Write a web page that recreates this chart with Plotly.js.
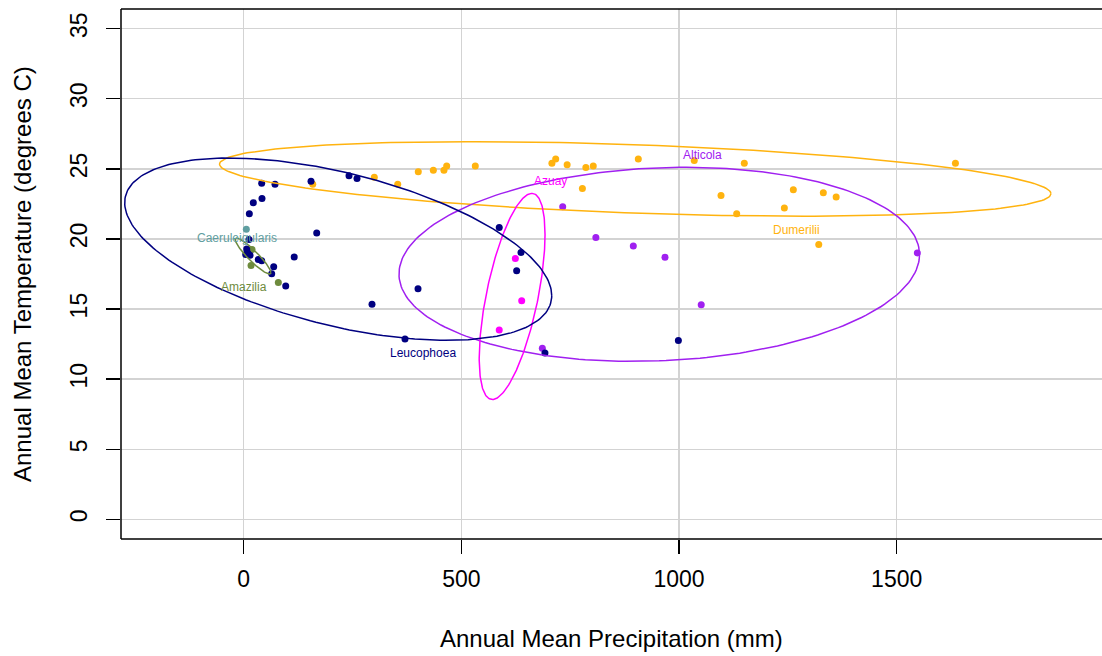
<!DOCTYPE html>
<html>
<head>
<meta charset="utf-8">
<script src="https://cdn.plot.ly/plotly-3.0.1.min.js"></script>
<style>html,body{margin:0;padding:0;background:#fff}#chart{width:1102px;height:656px}</style>
</head>
<body>
<div id="chart"></div>
<script>
// ---- data ----
const dumX = [158.6, 300, 353.8, 401, 435.6, 460, 466.3, 532, 708, 716.7, 743, 786, 803, 906.5, 1035, 1150, 1635, 778, 1096.5, 1262.6, 1331.5, 1361, 1132.5, 1242, 1321];
const dumY = [23.9, 24.4, 23.9, 24.8, 24.9, 24.9, 25.2, 25.2, 25.4, 25.7, 25.3, 25.1, 25.2, 25.7, 25.6, 25.4, 25.4, 23.6, 23.1, 23.5, 23.3, 23.0, 21.8, 22.2, 19.6];
const altX = [732.8, 809, 895, 967.8, 1051, 686, 1547.5];
const altY = [22.3, 20.1, 19.5, 18.7, 15.3, 12.2, 19.0];
const azuX = [624, 638.6, 587];
const azuY = [18.6, 15.6, 13.5];
const caeX = [6];
const caeY = [20.7];
const amaX = [19.1, 16.8, 79.5];
const amaY = [19.25, 18.1, 16.9];
const leuX = [41.3, 71.9, 154.6, 22, 42, 12.9, 167.7, 12.2, 6.9, 9.2, 4.6, 14.5, 33.5, 41.3, 116, 68.9, 64.3, 96.5, 241.9, 260.3, 587, 637, 627, 692, 998.5, 400.4, 294.7, 370.5];
const leuY = [23.98, 23.9, 24.12, 22.59, 22.89, 21.8, 20.43, 19.96, 19.29, 19.0, 18.89, 18.84, 18.54, 18.44, 18.72, 18.01, 17.51, 16.64, 24.5, 24.31, 20.81, 19.03, 17.73, 11.86, 12.76, 16.45, 15.34, 12.86];

// ellipse parameters: centre, half-extent in x and y, correlation
const ellNames = ["Dumerilii", "Alticola", "Azuay", "Amazilia", "Leucophoea"];
const ellCx = [899.5, 954.6, 616.6, 21.4, 217.1];
const ellCy = [24.28, 18.19, 15.9, 18.78, 19.27];
const ellRx = [955, 597.9, 75.6, 40.9, 490.5];
const ellRy = [2.66, 6.92, 7.35, 1.28, 6.5];
const ellR = [-0.397, 0.10, 0.60, -0.92, -0.51];

// labels
const labNames = ["Alticola", "Azuay", "Dumerilii", "Leucophoea", "Caeruleigularis", "Amazilia"];
const labX = [1055, 703.7, 1271, 411.9, -15.4, 0.7];
const labY = [26.02, 24.1, 20.62, 11.88, 20.05, 16.57];

const tickX = [0, 500, 1000, 1500];
const tickY = [0, 5, 10, 15, 20, 25, 30, 35];

// ---- styles ----
const colors = {
  Dumerilii: "#FFB30F",
  Alticola: "#A020F0",
  Azuay: "#FF00FF",
  Caeruleigularis: "#5F9EA0",
  Amazilia: "#6E8B3D",
  Leucophoea: "#000080"
};
const FONT = "Liberation Sans, Arial, Helvetica, sans-serif";

const series = [
  ["Dumerilii", dumX, dumY],
  ["Alticola", altX, altY],
  ["Azuay", azuX, azuY],
  ["Caeruleigularis", caeX, caeY],
  ["Amazilia", amaX, amaY],
  ["Leucophoea", leuX, leuY]
];

const traces = [];
series.forEach(([name, xs, ys]) => {
  traces.push({
    type: "scatter", mode: "markers", x: xs, y: ys, name: name,
    marker: {color: colors[name], size: 7, line: {width: 0}},
    hoverinfo: "x+y+name"
  });
});

ellNames.forEach((name, i) => {
  const phi = Math.acos(ellR[i]);
  const ex = [], ey = [];
  for (let k = 0; k <= 240; k++) {
    const t = 2 * Math.PI * k / 240;
    ex.push(ellCx[i] + ellRx[i] * Math.cos(t));
    ey.push(ellCy[i] + ellRy[i] * Math.cos(t - phi));
  }
  traces.push({
    type: "scatter", mode: "lines", x: ex, y: ey, name: name + " ellipse",
    line: {color: colors[name], width: 1.5}, hoverinfo: "skip"
  });
});

const annotations = labNames.map((n, i) => ({
  x: labX[i], y: labY[i], xref: "x", yref: "y", text: n, showarrow: false,
  font: {family: FONT, size: 12, color: colors[n]}, xanchor: "center", yanchor: "middle"
}));
annotations.push({
  xref: "paper", yref: "paper", x: 0.5, y: 0, yanchor: "middle", xanchor: "center",
  yshift: -99, showarrow: false, text: "Annual Mean Precipitation (mm)",
  font: {family: FONT, size: 24, color: "#000"}
});
annotations.push({
  xref: "paper", yref: "paper", x: 0, y: 0.5, yanchor: "middle", xanchor: "center",
  xshift: -99, textangle: -90, showarrow: false, text: "Annual Mean Temperature (degrees C)",
  font: {family: FONT, size: 24, color: "#000"}
});

const frame = {color: "#000", width: 1.5};
const layout = {
  width: 1102, height: 656,
  margin: {l: 121, r: 0, t: 9, b: 117},
  paper_bgcolor: "#fff", plot_bgcolor: "#fff",
  showlegend: false,
  font: {family: FONT, color: "#000"},
  xaxis: {
    range: [-281.9, 1971.7], tickmode: "array", tickvals: tickX, ticktext: tickX.map(String),
    showgrid: true, gridcolor: "#D3D3D3", gridwidth: 1.5, zeroline: false,
    ticks: "outside", ticklen: 14, tickwidth: 1.5, tickcolor: "#000",
    ticklabelstandoff: 5,
    tickfont: {family: FONT, size: 23, color: "#000"}, showline: false
  },
  yaxis: {
    range: [-1.4, 36.4], tickmode: "array", tickvals: tickY, ticktext: tickY.map(String),
    showgrid: true, gridcolor: "#D3D3D3", gridwidth: 1.5, zeroline: false,
    ticks: "outside", ticklen: 14, tickwidth: 1.5, tickcolor: "#000", tickangle: -90,
    ticklabelstandoff: 10,
    tickfont: {family: FONT, size: 23, color: "#000"}, showline: false
  },
  shapes: [
    {type: "line", xref: "paper", yref: "paper", x0: 0, x1: 0, y0: 0, y1: 1, line: frame, layer: "above"},
    {type: "line", xref: "paper", yref: "paper", x0: 0, x1: 1, y0: 0, y1: 0, line: frame, layer: "above"},
    {type: "line", xref: "paper", yref: "paper", x0: 0, x1: 1, y0: 1, y1: 1, line: frame, layer: "above"}
  ],
  annotations: annotations
};

Plotly.newPlot("chart", traces, layout, {staticPlot: true, displayModeBar: false});
</script>
</body>
</html>
